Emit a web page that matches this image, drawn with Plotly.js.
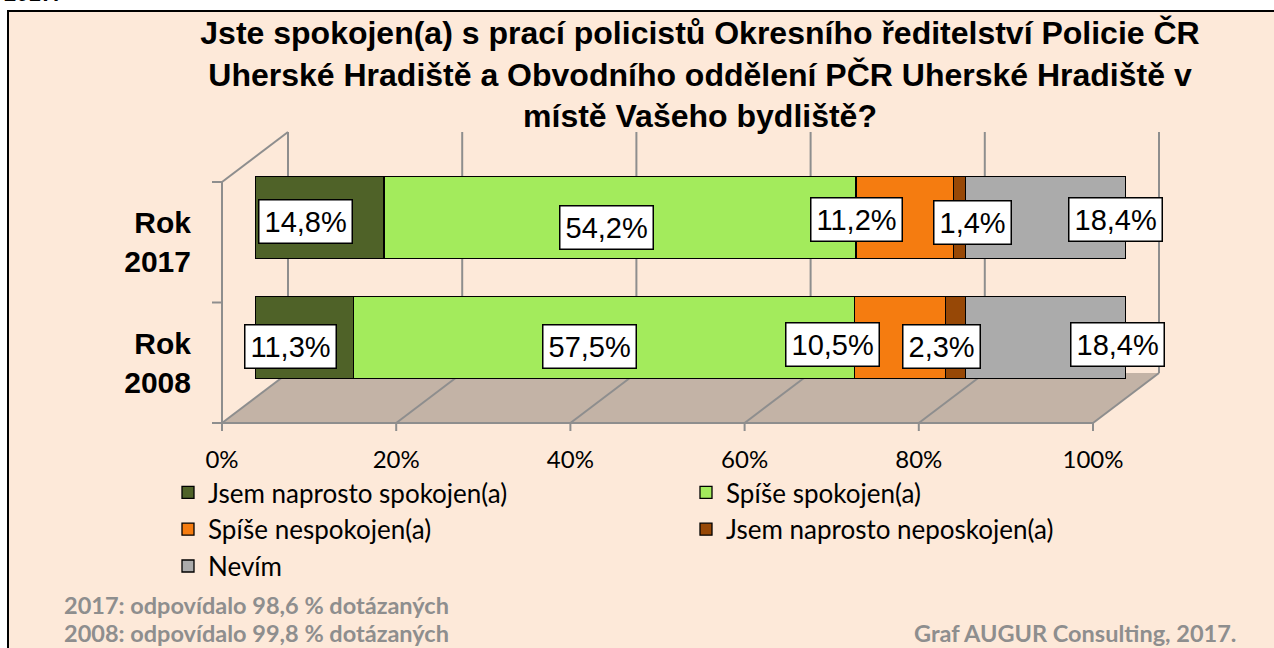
<!DOCTYPE html>
<html>
<head>
<meta charset="utf-8">
<script src="https://cdn.plot.ly/plotly-3.0.1.min.js"></script>
<style>html,body{margin:0;padding:0;background:#fff;}#chart{width:1274px;height:648px;}</style>
</head>
<body>
<div id="chart"></div>
<script>
// ---------------- data ----------------
const categories = ['2017', '2008'];           // top to bottom
const categoryOrder = ['2008', '2017'];        // bottom to top on axis
const seriesNames = ['Jsem naprosto spokojen(a)', 'Spíše spokojen(a)', 'Spíše nespokojen(a)', 'Jsem naprosto neposkojen(a)', 'Nevím'];
const naprostoSpokojen   = [14.8, 11.3];
const spiseSpokojen      = [54.2, 57.5];
const spiseNespokojen    = [11.2, 10.5];
const naprostoNespokojen = [1.4, 2.3];
const nevim              = [18.4, 18.4];
const xTickVals = [0, 20, 40, 60, 80, 100];
const xTickText = ['0%', '20%', '40%', '60%', '80%', '100%'];
const titleText = 'Jste spokojen(a) s prací policistů Okresního ředitelství Policie ČR<br>Uherské Hradiště a Obvodního oddělení PČR Uherské Hradiště v<br>místě Vašeho bydliště?';
const note2017 = '2017: odpovídalo 98,6 % dotázaných';
const note2008 = '2008: odpovídalo 99,8 % dotázaných';
const sourceText = 'Graf AUGUR Consulting, 2017.';

// ---------------- styles ----------------
const seriesValues = [naprostoSpokojen, spiseSpokojen, spiseNespokojen, naprostoNespokojen, nevim];
const seriesColors = ['#4F6228', '#A3EB5C', '#F57C10', '#974806', '#ABABAB'];
// pixel offsets of the value boxes from the segment centres [series][category]
const labelDX = [[-14, -14], [-13, -14], [-48, -67], [13, -14], [70, 72]];
const labelDY = [[-4, -9], [-10, -9], [-2, -7], [-5, -9], [-2, -7]];

const W = 1274, H = 648;
const P = x => x / W, Q = y => 1 - y / H;
const FX0 = 222, FX1 = 1093, FYT = 182, FYB = 423;   // front plane
const DX = 66, DY = -50;                               // depth
const BX0 = FX0 + DX / 2, BX1 = FX1 + DX / 2, BYT = FYT + DY / 2, BYB = FYB + DY / 2;
const gridCol = '#8E8E8E';

// ---------------- traces ----------------
const traces = seriesValues.map((vals, i) => ({
  type: 'bar', orientation: 'h', name: seriesNames[i],
  x: vals, y: categories,
  marker: {color: seriesColors[i], line: {color: '#000', width: 1.3}},
  hoverinfo: 'skip'
}));

// ---------------- annotations ----------------
const annotations = [];
categories.forEach((c, j) => {
  let cum = 0;
  seriesValues.forEach((vals, i) => {
    const v = vals[j];
    annotations.push({
      xref: 'x', yref: 'y', x: cum + v / 2, y: categoryOrder.indexOf(c),
      text: v.toFixed(1).replace('.', ',') + '%', showarrow: false,
      xshift: labelDX[i][j], yshift: labelDY[i][j],
      bgcolor: '#FFFFFF', bordercolor: '#000000', borderwidth: 1.5, borderpad: 5,
      font: {family: 'Arial, Liberation Sans, sans-serif', size: 29, color: '#000'}
    });
    cum += v;
  });
});
const footFont = {family: 'Lato, sans-serif', size: 23.5, color: '#8E8E8E', weight: 'bold'};
annotations.push(
  {xref: 'paper', yref: 'paper', x: P(62), y: Q(605), xanchor: 'left', yanchor: 'middle', showarrow: false, text: note2017, font: footFont},
  {xref: 'paper', yref: 'paper', x: P(62), y: Q(633), xanchor: 'left', yanchor: 'middle', showarrow: false, text: note2008, font: footFont},
  {xref: 'paper', yref: 'paper', x: P(1238), y: Q(633), xanchor: 'right', yanchor: 'middle', showarrow: false, text: sourceText, font: footFont},
  {xref: 'paper', yref: 'paper', x: P(2), y: Q(-7), xanchor: 'left', yanchor: 'middle', showarrow: false,
   text: '2017.', font: {family: 'Arial, Liberation Sans, sans-serif', size: 22, color: '#000', weight: 'bold'}}
);

// ---------------- frame shapes ----------------
const shapes = [];
const line = (x0, y0, x1, y1) => ({type: 'line', xref: 'paper', yref: 'paper', layer: 'below',
  line: {color: gridCol, width: 2}, x0: P(x0), y0: Q(y0), x1: P(x1), y1: Q(y1)});
shapes.push({type: 'rect', xref: 'paper', yref: 'paper', x0: P(8), y0: Q(11), x1: P(1290), y1: Q(670),
  fillcolor: '#FDE9D9', line: {color: '#000', width: 2}, layer: 'below'});
shapes.push({type: 'path', xref: 'paper', yref: 'paper', layer: 'below', fillcolor: '#C3B3A6', line: {width: 0},
  path: `M${P(FX0)},${Q(FYB)} L${P(FX1)},${Q(FYB)} L${P(FX1 + DX)},${Q(FYB + DY)} L${P(FX0 + DX)},${Q(FYB + DY)} Z`});
xTickVals.forEach(v => {
  const fx = FX0 + (FX1 - FX0) * v / 100;
  shapes.push(line(fx, FYB, fx + DX, FYB + DY));          // floor grid
  shapes.push(line(fx + DX, FYB + DY, fx + DX, FYT + DY)); // back wall grid
  shapes.push(line(fx, FYB, fx, FYB + 8));                 // front tick
});
shapes.push(line(FX0, FYT, FX0 + DX, FYT + DY));           // left wall top edge
shapes.push(line(FX0, FYT, FX0, FYB));                      // front vertical axis
shapes.push(line(FX0, FYB, FX1, FYB));                      // front horizontal axis
[0, 0.5, 1].forEach(f => {
  const y = FYT + (FYB - FYT) * f;
  shapes.push(line(FX0 - 10, y, FX0, y));                  // category boundary ticks
});

// ---------------- layout ----------------
const layout = {
  width: W, height: H,
  margin: {l: 0, r: 0, t: 0, b: 0},
  paper_bgcolor: '#FFFFFF', plot_bgcolor: 'rgba(0,0,0,0)',
  barmode: 'stack', bargap: 0.32,
  title: {text: titleText, x: P(700), xanchor: 'center', y: Q(44), yanchor: 'middle',
    font: {family: 'Liberation Sans Narrow, Arial Narrow, Arial, sans-serif', size: 32, color: '#000', weight: 'bold'}},
  xaxis: {domain: [P(BX0), P(BX1)], range: [0, 100], fixedrange: true,
    tickmode: 'array', tickvals: xTickVals, ticktext: xTickText, ticks: '',
    ticklabelshift: -DX / 2, ticklabelstandoff: 45,
    showline: false, showgrid: false, zeroline: false,
    tickfont: {family: 'Lato, sans-serif', size: 24, color: '#000'}},
  yaxis: {domain: [Q(BYB), Q(BYT)], type: 'category', categoryorder: 'array', categoryarray: categoryOrder,
    range: [-0.5, 1.5], fixedrange: true,
    tickmode: 'array', tickvals: categoryOrder, ticktext: categoryOrder.map(c => 'Rok<br>' + c), ticks: '',
    ticklabelshift: -DY / 2, ticklabelstandoff: 63,
    showline: false, showgrid: false, zeroline: false,
    tickfont: {family: 'Arial, Liberation Sans, sans-serif', size: 30, color: '#000', weight: 'bold'}},
  showlegend: true,
  legend: {orientation: 'h', x: P(168), xanchor: 'left', y: Q(469), yanchor: 'top',
    entrywidth: 473, entrywidthmode: 'pixels', traceorder: 'normal', bgcolor: 'rgba(0,0,0,0)',
    font: {family: 'Lato, sans-serif', size: 26, color: '#000'}, itemclick: false, itemdoubleclick: false},
  annotations: annotations,
  shapes: shapes
};

Plotly.newPlot('chart', traces, layout, {displayModeBar: false, staticPlot: true});
</script>
</body>
</html>
